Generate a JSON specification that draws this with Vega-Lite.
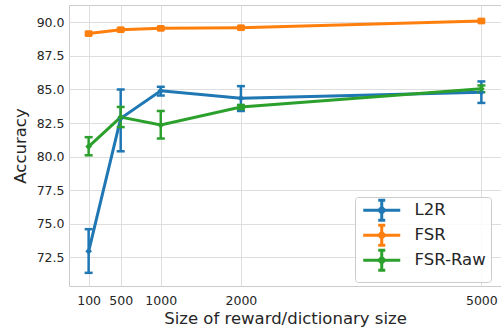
{
  "$schema": "https://vega.github.io/schema/vega-lite/v6.json",
  "autosize": {"type": "none"},
  "padding": {"left": 69, "top": 5, "right": 0, "bottom": 41},
  "width": 432,
  "height": 281,
  "config": {
    "font": "DejaVu Sans",
    "view": {"stroke": "#cccccc", "strokeWidth": 1},
    "axis": {
      "grid": true,
      "gridColor": "#dedede",
      "gridWidth": 1,
      "domain": false,
      "ticks": false,
      "labelColor": "#262626",
      "titleColor": "#262626",
      "labelFontSize": 12.5,
      "titleFontSize": 16.5,
      "titleFontWeight": "normal",
      "labelFont": "DejaVu Sans",
      "titleFont": "DejaVu Sans"
    }
  },
  "data": {
    "values": [
      {"series": "L2R", "size": 100, "acc": 72.95, "lo": 71.35, "hi": 74.6},
      {"series": "L2R", "size": 500, "acc": 82.85, "lo": 80.4, "hi": 85.0},
      {"series": "L2R", "size": 1000, "acc": 84.9, "lo": 84.55, "hi": 85.2},
      {"series": "L2R", "size": 2000, "acc": 84.35, "lo": 83.4, "hi": 85.25},
      {"series": "L2R", "size": 5000, "acc": 84.8, "lo": 84.0, "hi": 85.6},
      {"series": "FSR", "size": 100, "acc": 89.16, "lo": 89.06, "hi": 89.26},
      {"series": "FSR", "size": 500, "acc": 89.45, "lo": 89.35, "hi": 89.55},
      {"series": "FSR", "size": 1000, "acc": 89.55, "lo": 89.45, "hi": 89.65},
      {"series": "FSR", "size": 2000, "acc": 89.6, "lo": 89.5, "hi": 89.7},
      {"series": "FSR", "size": 5000, "acc": 90.1, "lo": 90.0, "hi": 90.2},
      {"series": "FSR-Raw", "size": 100, "acc": 80.75, "lo": 80.1, "hi": 81.45},
      {"series": "FSR-Raw", "size": 500, "acc": 82.95, "lo": 82.2, "hi": 83.7},
      {"series": "FSR-Raw", "size": 1000, "acc": 82.35, "lo": 81.35, "hi": 83.4},
      {"series": "FSR-Raw", "size": 2000, "acc": 83.7, "lo": 83.55, "hi": 83.85},
      {"series": "FSR-Raw", "size": 5000, "acc": 85.05, "lo": 84.8, "hi": 85.3}
    ]
  },
  "encoding": {
    "x": {
      "field": "size", "type": "quantitative",
      "scale": {"domain": [-145, 5245], "nice": false, "zero": false},
      "axis": {"values": [100, 500, 1000, 2000, 5000], "format": "d", "title": "Size of reward/dictionary size", "labelPadding": 8, "titlePadding": 4, "labelFlush": false}
    },
    "color": {
      "field": "series", "type": "nominal",
      "scale": {"domain": ["L2R", "FSR", "FSR-Raw"], "range": ["#1f77b4", "#ff7f0e", "#2ca02c"]},
      "legend": {
        "title": null,
        "orient": "none",
        "legendX": 286,
        "legendY": 192,
        "symbolType": "M-3.7,0H3.7M0,-2V2M-0.7,-2H0.7M-0.7,2H0.7M0,-0.6L0.6,0L0,0.6L-0.6,0Z",
        "symbolSize": 100,
        "symbolStrokeWidth": 3,
        "symbolOffset": 13.5,
        "labelFontSize": 16.5,
        "labelColor": "#262626",
        "labelOffset": 24.5,
        "labelBaseline": "middle",
        "rowPadding": -9,
        "padding": 5,
        "strokeColor": "#cccccc",
        "fillColor": "rgba(255,255,255,0.85)",
        "cornerRadius": 3
      }
    }
  },
  "layer": [
    {
      "mark": {"type": "line", "strokeWidth": 3},
      "encoding": {
        "y": {
          "field": "acc", "type": "quantitative",
          "scale": {"domain": [70.37, 91.29], "nice": false, "zero": false},
          "axis": {"values": [72.5, 75, 77.5, 80, 82.5, 85, 87.5, 90], "format": ".1f", "title": "Accuracy", "labelPadding": 5, "titlePadding": 8}
        }
      }
    },
    {
      "mark": {"type": "rule", "strokeWidth": 2.5},
      "encoding": {
        "y": {"field": "lo", "type": "quantitative"},
        "y2": {"field": "hi"}
      }
    },
    {
      "mark": {"type": "point", "shape": "M-1,0H1", "size": 64, "strokeWidth": 2.5, "filled": false, "opacity": 1},
      "encoding": {"y": {"field": "lo", "type": "quantitative"}}
    },
    {
      "mark": {"type": "point", "shape": "M-1,0H1", "size": 64, "strokeWidth": 2.5, "filled": false, "opacity": 1},
      "encoding": {"y": {"field": "hi", "type": "quantitative"}}
    },
    {
      "transform": [{"filter": "datum.series !== 'FSR'"}],
      "mark": {"type": "point", "shape": "diamond", "filled": true, "opacity": 1, "size": 45},
      "encoding": {"y": {"field": "acc", "type": "quantitative"}}
    },
    {
      "transform": [{"filter": "datum.series === 'FSR'"}],
      "mark": {"type": "point", "shape": "square", "filled": true, "opacity": 1, "size": 45},
      "encoding": {"y": {"field": "acc", "type": "quantitative"}}
    }
  ]
}
